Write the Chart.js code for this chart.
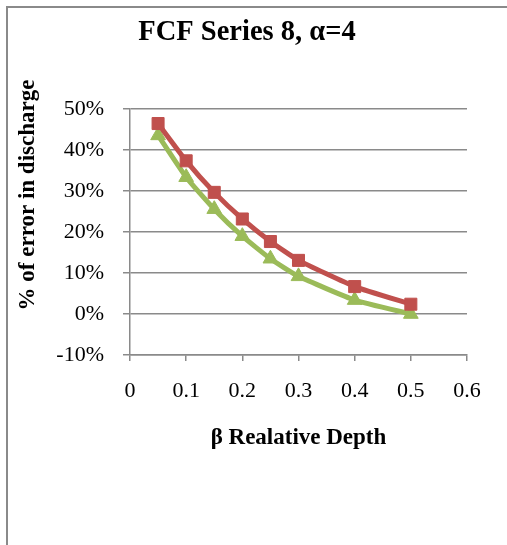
<!DOCTYPE html>
<html>
<head>
<meta charset="utf-8">
<script src="https://cdn.jsdelivr.net/npm/chart.js@4.4.1/dist/chart.umd.min.js"></script>
<style>
  html, body { margin: 0; padding: 0; background: #fff; }
  #wrap { position: relative; width: 507px; height: 545px; overflow: hidden; }
  #frame { position: absolute; left: 6px; top: 6px; width: 600px; height: 600px;
           border-left: 2px solid #8a8a8a; border-top: 2px solid #8a8a8a; pointer-events: none; }
  canvas { position: absolute; left: 0; top: 0; }
</style>
</head>
<body>
<div id="wrap">
  <canvas id="c" width="507" height="545"></canvas>
  <div id="frame"></div>
</div>
<script>
const chartTitle = "FCF Series 8, α=4";
const xAxisTitle = "β Realative Depth";
const yAxisTitle = "% of error in discharge";
const betaValues = [0.05, 0.1, 0.15, 0.2, 0.25, 0.3, 0.4, 0.5];
const redSeries = [46.5, 37.4, 29.7, 23.2, 17.7, 13.1, 6.7, 2.4];
const greenSeries = [43.6, 33.4, 25.6, 19.0, 13.5, 9.2, 3.4, 0.0];
const xTicks = [0, 0.1, 0.2, 0.3, 0.4, 0.5, 0.6];
const yTicks = [-10, 0, 10, 20, 30, 40, 50];

const serif = "'Liberation Serif', 'Times New Roman', serif";
Chart.defaults.font.family = serif;
Chart.defaults.color = '#000';

const toPoints = (xs, ys) => xs.map((x, i) => ({ x: x, y: ys[i] }));

const yTitlePlugin = {
  id: 'yTitle',
  afterDraw(chart) {
    const ctx = chart.ctx;
    ctx.save();
    ctx.translate(28, 195);
    ctx.rotate(-Math.PI / 2);
    ctx.font = "bold 23px " + serif;
    ctx.fillStyle = '#000';
    ctx.textAlign = 'center';
    ctx.textBaseline = 'middle';
    ctx.fillText(yAxisTitle, 0, 0);
    ctx.restore();
  }
};

new Chart(document.getElementById('c'), {
  type: 'line',
  data: {
    datasets: [
      {
        label: 'Series 1',
        data: toPoints(betaValues, redSeries),
        borderColor: '#C0504D',
        backgroundColor: '#C0504D',
        borderWidth: 5,
        pointStyle: 'rect',
        pointRadius: 8.5,
        pointBorderWidth: 1,
        pointBackgroundColor: '#C0504D',
        pointBorderColor: '#C0504D',
        tension: 0.15,
        fill: false
      },
      {
        label: 'Series 2',
        data: toPoints(betaValues, greenSeries),
        borderColor: '#9BBB59',
        backgroundColor: '#9BBB59',
        borderWidth: 5,
        pointStyle: 'triangle',
        pointRadius: 8.5,
        pointBorderWidth: 1,
        pointBackgroundColor: '#9BBB59',
        pointBorderColor: '#9BBB59',
        tension: 0.15,
        fill: false
      }
    ]
  },
  options: {
    responsive: false,
    animation: false,
    events: [],
    layout: { padding: { left: 0, right: 13, top: 0, bottom: 93 } },
    plugins: {
      legend: { display: false },
      tooltip: { enabled: false },
      title: {
        display: true,
        text: chartTitle,
        color: '#000',
        font: { size: 28.5, weight: 'bold', family: serif },
        padding: { top: 16, bottom: 59 }
      }
    },
    scales: {
      x: {
        type: 'linear',
        min: 0,
        max: 0.6,
        afterBuildTicks: (scale) => { scale.ticks = xTicks.map(v => ({ value: v })); },
        ticks: {
          color: '#000',
          font: { size: 22 },
          padding: 17.5,
          maxRotation: 0,
          callback: (v) => String(Math.round(v * 10) / 10)
        },
        grid: {
          drawOnChartArea: false,
          drawTicks: true,
          tickLength: 6,
          color: '#8a8a8a',
          lineWidth: 1.5
        },
        border: { display: true, color: '#8a8a8a', width: 1.5 },
        title: {
          display: true,
          text: xAxisTitle,
          color: '#000',
          font: { size: 23, weight: 'bold' },
          padding: { top: 2, bottom: 0 }
        }
      },
      y: {
        type: 'linear',
        min: -10,
        max: 50,
        afterBuildTicks: (scale) => { scale.ticks = yTicks.map(v => ({ value: v })); },
        afterFit: (scale) => { scale.width = 130; },
        ticks: {
          color: '#000',
          font: { size: 22 },
          padding: 19,
          callback: (v) => v + '%'
        },
        grid: {
          drawOnChartArea: true,
          drawTicks: true,
          tickLength: 7,
          color: '#8a8a8a',
          lineWidth: 1.5
        },
        border: { display: true, color: '#8a8a8a', width: 1.5 }
      },
      yRight: {
        type: 'linear',
        position: 'right',
        display: true,
        min: -10,
        max: 50,
        afterFit: (scale) => { scale.width = 27; },
        ticks: { display: false },
        grid: { display: false, drawOnChartArea: false },
        border: { display: false }
      }
    }
  },
  plugins: [yTitlePlugin]
});
</script>
</body>
</html>
